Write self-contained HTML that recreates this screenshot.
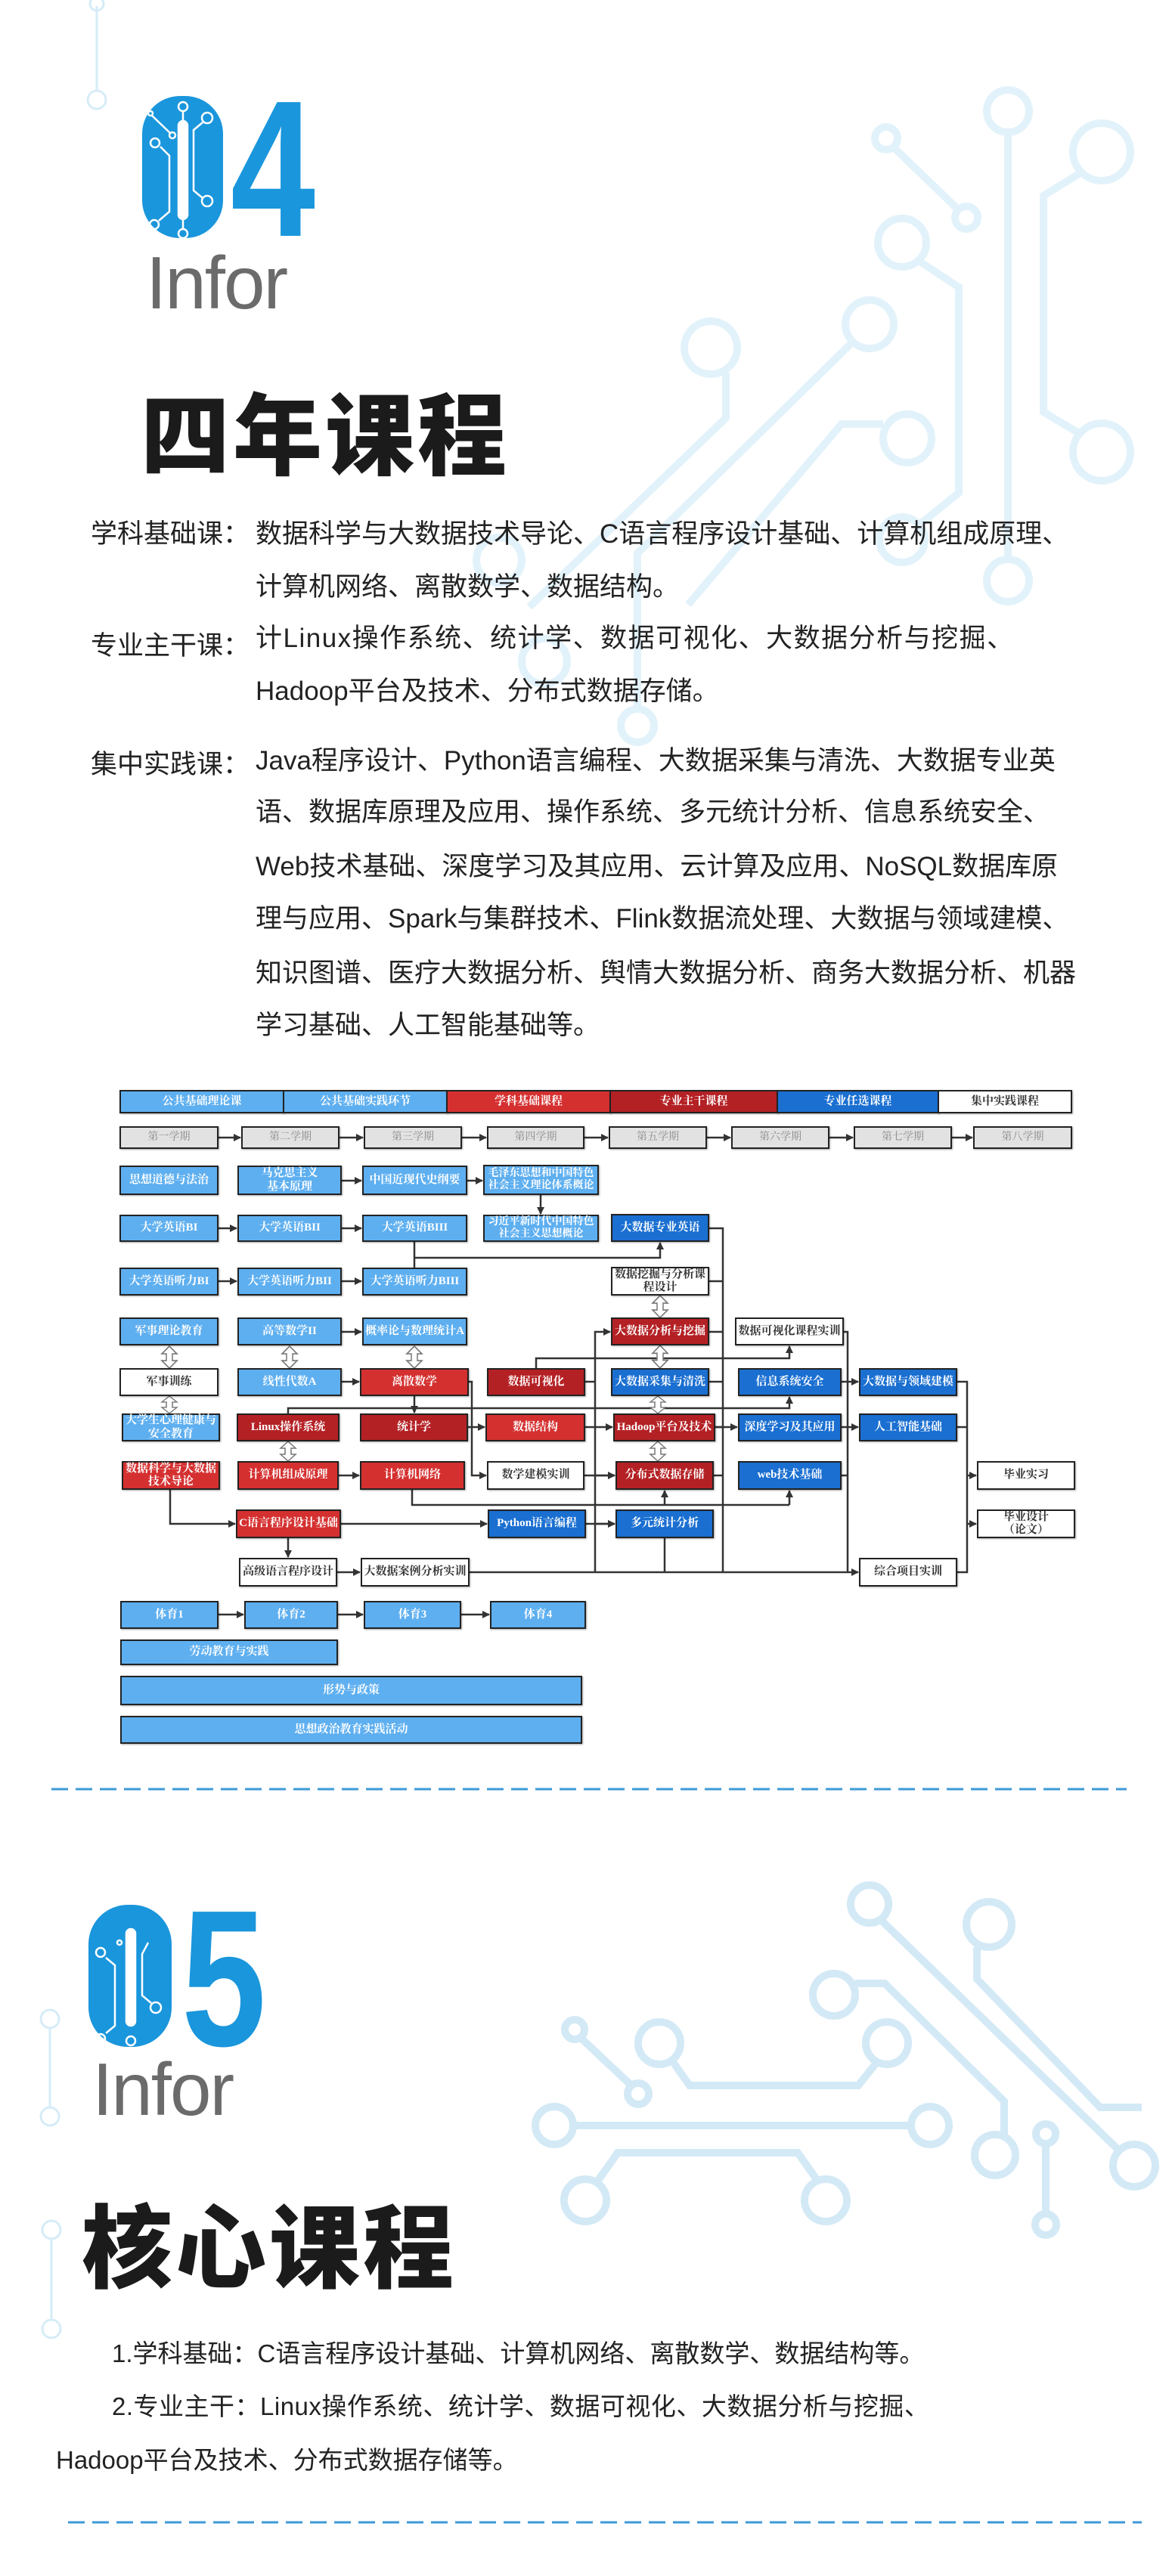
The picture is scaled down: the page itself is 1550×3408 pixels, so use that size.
<!DOCTYPE html>
<html><head><meta charset="utf-8">
<style>
*{margin:0;padding:0;box-sizing:border-box}
body{width:1550px;height:3408px;background:#fff;position:relative;overflow:hidden;font-family:"Liberation Sans","Noto Sans CJK SC",sans-serif}
.a{position:absolute}
.b{position:absolute;border:2px solid #222;display:flex;align-items:center;justify-content:center;text-align:center;font-family:"Liberation Serif","Noto Serif CJK SC",serif;font-weight:bold;font-size:15px;line-height:1.15;color:#fff;box-shadow:1px 1px 2px rgba(0,0,0,.35)}
.lb{background:#5eaff0}
.db{background:#1a6fd1}
.r{background:#d53030}
.dr{background:#b42125}
.w{background:#fff;color:#333}
.s{background:#e2e2e2;color:#888;font-weight:normal;font-size:14px}
.lab{position:absolute;left:120px;font-size:35px;color:#222}
.txt{position:absolute;left:338px;font-size:35px;color:#222;white-space:nowrap}
</style></head><body>

<svg class="a" style="left:0;top:0" width="1550" height="3408" viewBox="0 0 1550 3408">
<defs>
<marker id="ar" markerWidth="10" markerHeight="10" refX="9" refY="5" orient="auto" markerUnits="userSpaceOnUse"><path d="M0,0 L10,5 L0,10 z" fill="#333"/></marker>
<path id="da" d="M0,0 L-10,9 L-4,9 L-4,17 L-10,17 L0,26 L10,17 L4,17 L4,9 L10,9 Z" fill="#fff" stroke="#777" stroke-width="1.5"/>
</defs>
<!-- top left deco -->
<g stroke="#d6ecf7" stroke-width="3" fill="none">
<line x1="128" y1="8" x2="128" y2="120"/><circle cx="128" cy="5" r="9"/><circle cx="128" cy="132" r="12"/>
</g>
<!-- top right circuit -->
<g stroke="#e2f2fb" stroke-width="10" fill="none">
<circle cx="1333" cy="147" r="28"/><line x1="1333" y1="175" x2="1333" y2="740"/><circle cx="1333" cy="768" r="28"/>
<circle cx="1172" cy="183" r="15"/><line x1="1182" y1="195" x2="1268" y2="278"/><circle cx="1278" cy="288" r="15"/>
<circle cx="1457" cy="201" r="38"/><polyline points="1430,228 1380,259 1380,545 1430,575"/><circle cx="1457" cy="598" r="38"/>
<circle cx="1193" cy="321" r="32"/><polyline points="1215,345 1268,380 1268,652 1215,695"/><circle cx="1193" cy="714" r="30"/>
<circle cx="940" cy="460" r="35"/><polyline points="960,493 960,553 700,803"/><circle cx="660" cy="741" r="30"/>
<circle cx="1150" cy="429" r="32"/><polyline points="1128,452 843,732 843,935"/><circle cx="843" cy="960" r="22"/>
<circle cx="1200" cy="580" r="32"/><polyline points="1168,561 1113,561 910,800"/><circle cx="720" cy="875" r="30"/>
</g>
<!-- 04 -->
<rect x="188" y="127" width="107" height="188" rx="50" fill="#1a96dc"/>
<g stroke="#fff" stroke-width="2.5" fill="none">
<rect x="236" y="160" width="12" height="130" rx="6" fill="#fff"/>
<line x1="242" y1="147" x2="242" y2="160"/><circle cx="242" cy="141" r="6"/>
<line x1="242" y1="290" x2="242" y2="303"/><circle cx="242" cy="309" r="6"/>
<polyline points="200,152 225,176"/><circle cx="199" cy="150" r="3"/><circle cx="228" cy="179" r="4"/>
<polyline points="212,194 224,206 224,280 210,292"/><circle cx="205" cy="189" r="6"/><circle cx="204" cy="297" r="6"/>
<polyline points="268,162 256,172 256,252 268,262"/><circle cx="274" cy="156" r="7"/><circle cx="274" cy="266" r="7"/>
</g>
<text x="305" y="312" font-family="Liberation Sans" font-weight="bold" font-size="257" fill="#1a96dc" textLength="112" lengthAdjust="spacingAndGlyphs">4</text>

<!-- 05 section deco -->
<g stroke="#d6ecf7" stroke-width="3" fill="none">
<circle cx="66" cy="2671" r="12"/><line x1="66" y1="2683" x2="66" y2="2788"/><circle cx="66" cy="2800" r="12"/>
<circle cx="68" cy="2950" r="12"/><line x1="68" y1="2962" x2="68" y2="3069"/><circle cx="68" cy="3081" r="12"/>
</g>
<g stroke="#d3e9f6" stroke-width="10" fill="none">
<circle cx="1150" cy="2519" r="25"/><polyline points="1165,2540 1480,2845"/><circle cx="1500" cy="2865" r="28"/>
<circle cx="1308" cy="2546" r="30"/><polyline points="1292,2576 1292,2618 1455,2788 1510,2788"/>
<circle cx="1103" cy="2639" r="28"/><polyline points="1131,2624 1170,2624 1328,2780 1328,2824"/><circle cx="1316" cy="2851" r="27"/>
<circle cx="1173" cy="2703" r="28"/><polyline points="1160,2728 1135,2759 912,2759 890,2728"/><circle cx="872" cy="2703" r="28"/>
<circle cx="760" cy="2685" r="13"/><polyline points="768,2696 836,2760"/><circle cx="844" cy="2770" r="14"/>
<circle cx="733" cy="2812" r="25"/><line x1="758" y1="2812" x2="1205" y2="2812"/><circle cx="1230" cy="2812" r="25"/>
<circle cx="774" cy="2911" r="28"/><polyline points="790,2886 817,2848 1055,2848 1082,2886"/><circle cx="1092" cy="2911" r="28"/>
<circle cx="1383" cy="2823" r="13"/><line x1="1383" y1="2836" x2="1383" y2="2930"/><circle cx="1383" cy="2943" r="14"/>
</g>
<!-- 05 -->
<rect x="117" y="2520" width="110" height="188" rx="52" fill="#1a96dc"/>
<g stroke="#fff" stroke-width="2.5" fill="none">
<rect x="167" y="2552" width="12" height="128" rx="6" fill="#fff"/>
<circle cx="173" cy="2700" r="6"/>
<polyline points="140,2590 152,2600 152,2680 140,2690"/><circle cx="133" cy="2583" r="6"/><circle cx="133" cy="2697" r="6"/>
<polyline points="196,2570 188,2585 188,2640 200,2650"/><circle cx="206" cy="2656" r="7"/><circle cx="158" cy="2570" r="3"/>
</g>
<text x="240" y="2706" font-family="Liberation Sans" font-weight="bold" font-size="257" fill="#1a96dc" textLength="112" lengthAdjust="spacingAndGlyphs">5</text>

<!-- dashed lines -->
<line x1="68" y1="2367" x2="1490" y2="2367" stroke="#3d9ad8" stroke-width="3" stroke-dasharray="22,10"/>
<line x1="90" y1="3337" x2="1510" y2="3337" stroke="#3d9ad8" stroke-width="3" stroke-dasharray="22,10"/>

<!-- connectors -->
<g stroke="#333" stroke-width="2.5" fill="none">
<line x1="289" y1="1505" x2="318" y2="1505" marker-end="url(#ar)"/>
<line x1="449" y1="1505" x2="480" y2="1505" marker-end="url(#ar)"/>
<line x1="611" y1="1505" x2="643" y2="1505" marker-end="url(#ar)"/>
<line x1="773" y1="1505" x2="804" y2="1505" marker-end="url(#ar)"/>
<line x1="935" y1="1505" x2="966" y2="1505" marker-end="url(#ar)"/>
<line x1="1097" y1="1505" x2="1128" y2="1505" marker-end="url(#ar)"/>
<line x1="1259" y1="1505" x2="1286" y2="1505" marker-end="url(#ar)"/>
<line x1="452" y1="1562" x2="478" y2="1562" marker-end="url(#ar)"/>
<line x1="618" y1="1562" x2="638" y2="1562" marker-end="url(#ar)"/>
<line x1="715" y1="1581" x2="715" y2="1606" marker-end="url(#ar)"/>
<line x1="289" y1="1625" x2="313" y2="1625" marker-end="url(#ar)"/>
<line x1="452" y1="1625" x2="478" y2="1625" marker-end="url(#ar)"/>
<polyline points="548,1643 548,1677"/>
<polyline points="548,1664 873,1664 873,1644" marker-end="url(#ar)"/>
<line x1="289" y1="1695" x2="313" y2="1695" marker-end="url(#ar)"/>
<line x1="452" y1="1695" x2="478" y2="1695" marker-end="url(#ar)"/>
<line x1="452" y1="1762" x2="478" y2="1762" marker-end="url(#ar)"/>
<line x1="452" y1="1828" x2="475" y2="1828" marker-end="url(#ar)"/>
<polyline points="709,1810 709,1797 1044,1797 1044,1781" marker-end="url(#ar)"/>
<polyline points="774,1828 787,1828"/>
<polyline points="787,2080 787,1762 807,1762" marker-end="url(#ar)"/>
<line x1="787" y1="1952" x2="813" y2="1952" marker-end="url(#ar)"/>
<line x1="787" y1="2016" x2="813" y2="2016" marker-end="url(#ar)"/>
<polyline points="620,1828 624,1828 624,1952 643,1952" marker-end="url(#ar)"/>
<line x1="548" y1="1847" x2="548" y2="1869" marker-end="url(#ar)"/>
<polyline points="381,1870 381,1863 1044,1863 1044,1848" marker-end="url(#ar)"/>
<line x1="619" y1="1888" x2="641" y2="1888" marker-end="url(#ar)"/>
<line x1="774" y1="1888" x2="810" y2="1888" marker-end="url(#ar)"/>
<line x1="946" y1="1888" x2="975" y2="1888" marker-end="url(#ar)"/>
<line x1="1113" y1="1888" x2="1135" y2="1888" marker-end="url(#ar)"/>
<line x1="1113" y1="1828" x2="1135" y2="1828" marker-end="url(#ar)"/>
<line x1="448" y1="1952" x2="475" y2="1952" marker-end="url(#ar)"/>
<line x1="773" y1="1952" x2="813" y2="1952" marker-end="url(#ar)"/>
<polyline points="545,1971 545,1991 1044,1991"/>
<line x1="879" y1="1991" x2="879" y2="1972" marker-end="url(#ar)"/>
<line x1="1044" y1="1991" x2="1044" y2="1972" marker-end="url(#ar)"/>
<polyline points="225,1971 225,2016 311,2016" marker-end="url(#ar)"/>
<line x1="451" y1="2016" x2="644" y2="2016" marker-end="url(#ar)"/>
<line x1="775" y1="2016" x2="813" y2="2016" marker-end="url(#ar)"/>
<line x1="381" y1="2035" x2="381" y2="2060" marker-end="url(#ar)"/>
<line x1="446" y1="2080" x2="476" y2="2080" marker-end="url(#ar)"/>
<line x1="621" y1="2080" x2="1135" y2="2080" marker-end="url(#ar)"/>
<line x1="879" y1="2035" x2="879" y2="2080"/>
<polyline points="938,1625 956,1625 956,2080"/>
<line x1="938" y1="1695" x2="956" y2="1695"/>
<line x1="938" y1="1762" x2="956" y2="1762"/>
<line x1="938" y1="1828" x2="956" y2="1828"/>
<line x1="946" y1="1888" x2="956" y2="1888"/>
<line x1="944" y1="1952" x2="956" y2="1952"/>
<polyline points="1116,1762 1121,1762 1121,2080"/>
<line x1="1113" y1="1952" x2="1121" y2="1952"/>
<polyline points="1266,1828 1279,1828 1279,2080 1266,2080"/>
<line x1="1266" y1="1888" x2="1279" y2="1888"/>
<line x1="1279" y1="1952" x2="1291" y2="1952" marker-end="url(#ar)"/>
<line x1="1279" y1="2016" x2="1291" y2="2016" marker-end="url(#ar)"/>
<line x1="289" y1="2136" x2="322" y2="2136" marker-end="url(#ar)"/>
<line x1="447" y1="2136" x2="480" y2="2136" marker-end="url(#ar)"/>
<line x1="610" y1="2136" x2="647" y2="2136" marker-end="url(#ar)"/>
</g>
<!-- hollow double arrows -->
<use href="#da" transform="translate(224,1781) scale(1,1.12)"/>
<use href="#da" transform="translate(383,1781) scale(1,1.12)"/>
<use href="#da" transform="translate(548,1781) scale(1,1.12)"/>
<use href="#da" transform="translate(224,1847) scale(1,0.88)"/>
<use href="#da" transform="translate(381,1907) scale(1,1)"/>
<use href="#da" transform="translate(873,1714) scale(1,1.12)"/>
<use href="#da" transform="translate(873,1780) scale(1,1.15)"/>
<use href="#da" transform="translate(870,1847) scale(1,0.88)"/>
<use href="#da" transform="translate(870,1907) scale(1,1)"/>
</svg>

<!-- headings top -->
<div class="a" style="left:193px;top:318px;font-size:98px;color:#6b6b6b;font-weight:300;letter-spacing:-2px">Infor</div>
<div class="a" style="left:186px;top:482px;font-size:118px;font-weight:900;color:#1b1b1b;letter-spacing:4px;font-family:'Noto Sans CJK SC',sans-serif">四年课程</div>

<div class="lab" style="top:678px">学科基础课：</div>
<div class="txt" style="top:678px">数据科学与大数据技术导论、C语言程序设计基础、计算机组成原理、</div>
<div class="txt" style="top:748px">计算机网络、离散数学、数据结构。</div>
<div class="lab" style="top:826px">专业主干课：</div>
<div class="txt" style="top:816px;letter-spacing:1.5px">计Linux操作系统、统计学、数据可视化、大数据分析与挖掘、</div>
<div class="txt" style="top:886px">Hadoop平台及技术、分布式数据存储。</div>
<div class="lab" style="top:983px">集中实践课：</div>
<div class="txt" style="top:978px">Java程序设计、Python语言编程、大数据采集与清洗、大数据专业英</div>
<div class="txt" style="top:1046px">语、数据库原理及应用、操作系统、多元统计分析、信息系统安全、</div>
<div class="txt" style="top:1118px">Web技术基础、深度学习及其应用、云计算及应用、NoSQL数据库原</div>
<div class="txt" style="top:1187px">理与应用、Spark与集群技术、Flink数据流处理、大数据与领域建模、</div>
<div class="txt" style="top:1259px">知识图谱、医疗大数据分析、舆情大数据分析、商务大数据分析、机器</div>
<div class="txt" style="top:1328px">学习基础、人工智能基础等。</div>

<!-- diagram header -->
<div class="b lb" style="left:158px;top:1442px;width:218px;height:31px">公共基础理论课</div>
<div class="b lb" style="left:374px;top:1442px;width:218px;height:31px">公共基础实践环节</div>
<div class="b r" style="left:590px;top:1442px;width:218px;height:31px">学科基础课程</div>
<div class="b dr" style="left:806px;top:1442px;width:223px;height:31px">专业主干课程</div>
<div class="b db" style="left:1027px;top:1442px;width:215px;height:31px">专业任选课程</div>
<div class="b w" style="left:1240px;top:1442px;width:178px;height:31px">集中实践课程</div>

<div class="b s" style="left:158px;top:1490px;width:131px;height:30px">第一学期</div>
<div class="b s" style="left:319px;top:1490px;width:130px;height:30px">第二学期</div>
<div class="b s" style="left:481px;top:1490px;width:130px;height:30px">第三学期</div>
<div class="b s" style="left:644px;top:1490px;width:129px;height:30px">第四学期</div>
<div class="b s" style="left:805px;top:1490px;width:130px;height:30px">第五学期</div>
<div class="b s" style="left:967px;top:1490px;width:130px;height:30px">第六学期</div>
<div class="b s" style="left:1129px;top:1490px;width:130px;height:30px">第七学期</div>
<div class="b s" style="left:1287px;top:1490px;width:131px;height:30px">第八学期</div>

<div class="b lb" style="left:158px;top:1542px;width:131px;height:39px">思想道德与法治</div>
<div class="b lb" style="left:314px;top:1542px;width:138px;height:39px">马克思主义<br>基本原理</div>
<div class="b lb" style="left:479px;top:1542px;width:139px;height:39px">中国近现代史纲要</div>
<div class="b lb" style="left:639px;top:1541px;width:153px;height:40px;font-size:14px">毛泽东思想和中国特色<br>社会主义理论体系概论</div>

<div class="b lb" style="left:158px;top:1607px;width:131px;height:36px">大学英语BI</div>
<div class="b lb" style="left:314px;top:1607px;width:138px;height:36px">大学英语BII</div>
<div class="b lb" style="left:479px;top:1607px;width:139px;height:36px">大学英语BIII</div>
<div class="b lb" style="left:639px;top:1607px;width:153px;height:36px;font-size:14px">习近平新时代中国特色<br>社会主义思想概论</div>
<div class="b db" style="left:808px;top:1606px;width:130px;height:37px">大数据专业英语</div>

<div class="b lb" style="left:158px;top:1677px;width:131px;height:37px">大学英语听力BI</div>
<div class="b lb" style="left:314px;top:1677px;width:138px;height:37px">大学英语听力BII</div>
<div class="b lb" style="left:479px;top:1677px;width:139px;height:37px">大学英语听力BIII</div>
<div class="b w" style="left:808px;top:1676px;width:130px;height:38px">数据挖掘与分析课<br>程设计</div>

<div class="b lb" style="left:158px;top:1743px;width:131px;height:37px">军事理论教育</div>
<div class="b lb" style="left:314px;top:1743px;width:138px;height:37px">高等数学II</div>
<div class="b lb" style="left:479px;top:1743px;width:139px;height:37px">概率论与数理统计A</div>
<div class="b dr" style="left:808px;top:1743px;width:130px;height:37px">大数据分析与挖掘</div>
<div class="b w" style="left:972px;top:1743px;width:144px;height:37px">数据可视化课程实训</div>

<div class="b w" style="left:158px;top:1810px;width:131px;height:37px">军事训练</div>
<div class="b lb" style="left:314px;top:1810px;width:138px;height:37px">线性代数A</div>
<div class="b r" style="left:476px;top:1810px;width:144px;height:37px">离散数学</div>
<div class="b dr" style="left:644px;top:1810px;width:130px;height:37px">数据可视化</div>
<div class="b db" style="left:808px;top:1810px;width:130px;height:37px">大数据采集与清洗</div>
<div class="b db" style="left:976px;top:1810px;width:137px;height:37px">信息系统安全</div>
<div class="b db" style="left:1136px;top:1810px;width:130px;height:37px">大数据与领域建模</div>

<div class="b lb" style="left:161px;top:1870px;width:130px;height:37px">大学生心理健康与<br>安全教育</div>
<div class="b dr" style="left:313px;top:1870px;width:136px;height:37px">Linux操作系统</div>
<div class="b dr" style="left:476px;top:1870px;width:143px;height:37px">统计学</div>
<div class="b r" style="left:642px;top:1870px;width:132px;height:37px">数据结构</div>
<div class="b dr" style="left:811px;top:1870px;width:135px;height:37px">Hadoop平台及技术</div>
<div class="b db" style="left:976px;top:1870px;width:137px;height:37px">深度学习及其应用</div>
<div class="b db" style="left:1136px;top:1870px;width:130px;height:37px">人工智能基础</div>

<div class="b r" style="left:161px;top:1933px;width:130px;height:38px">数据科学与大数据<br>技术导论</div>
<div class="b r" style="left:314px;top:1933px;width:134px;height:38px">计算机组成原理</div>
<div class="b r" style="left:476px;top:1933px;width:139px;height:38px">计算机网络</div>
<div class="b w" style="left:644px;top:1933px;width:129px;height:38px">数学建模实训</div>
<div class="b dr" style="left:814px;top:1933px;width:130px;height:38px">分布式数据存储</div>
<div class="b db" style="left:976px;top:1933px;width:137px;height:38px">web技术基础</div>
<div class="b w" style="left:1292px;top:1933px;width:130px;height:38px">毕业实习</div>

<div class="b r" style="left:312px;top:1997px;width:139px;height:38px">C语言程序设计基础</div>
<div class="b db" style="left:645px;top:1997px;width:130px;height:38px">Python语言编程</div>
<div class="b db" style="left:814px;top:1997px;width:130px;height:38px">多元统计分析</div>
<div class="b w" style="left:1292px;top:1997px;width:130px;height:38px">毕业设计<br>（论文）</div>

<div class="b w" style="left:316px;top:2061px;width:130px;height:38px">高级语言程序设计</div>
<div class="b w" style="left:477px;top:2061px;width:144px;height:38px">大数据案例分析实训</div>
<div class="b w" style="left:1136px;top:2061px;width:130px;height:38px">综合项目实训</div>

<div class="b lb" style="left:159px;top:2118px;width:130px;height:37px">体育1</div>
<div class="b lb" style="left:323px;top:2118px;width:124px;height:37px">体育2</div>
<div class="b lb" style="left:481px;top:2118px;width:129px;height:37px">体育3</div>
<div class="b lb" style="left:648px;top:2118px;width:127px;height:37px">体育4</div>
<div class="b lb" style="left:159px;top:2169px;width:288px;height:34px">劳动教育与实践</div>
<div class="b lb" style="left:159px;top:2217px;width:611px;height:39px">形势与政策</div>
<div class="b lb" style="left:159px;top:2270px;width:611px;height:37px">思想政治教育实践活动</div>

<!-- 05 section text -->
<div class="a" style="left:122px;top:2708px;font-size:98px;color:#6b6b6b;font-weight:300;letter-spacing:-2px">Infor</div>
<div class="a" style="left:108px;top:2878px;font-size:120px;font-weight:900;color:#1b1b1b;letter-spacing:4px;font-family:'Noto Sans CJK SC',sans-serif">核心课程</div>
<div class="a" style="left:148px;top:3087px;font-size:33px;color:#222;white-space:nowrap">1.学科基础：C语言程序设计基础、计算机网络、离散数学、数据结构等。</div>
<div class="a" style="left:148px;top:3157px;font-size:33px;color:#222;white-space:nowrap;letter-spacing:0.5px">2.专业主干：Linux操作系统、统计学、数据可视化、大数据分析与挖掘、</div>
<div class="a" style="left:74px;top:3228px;font-size:33px;color:#222;white-space:nowrap">Hadoop平台及技术、分布式数据存储等。</div>
</body></html>
